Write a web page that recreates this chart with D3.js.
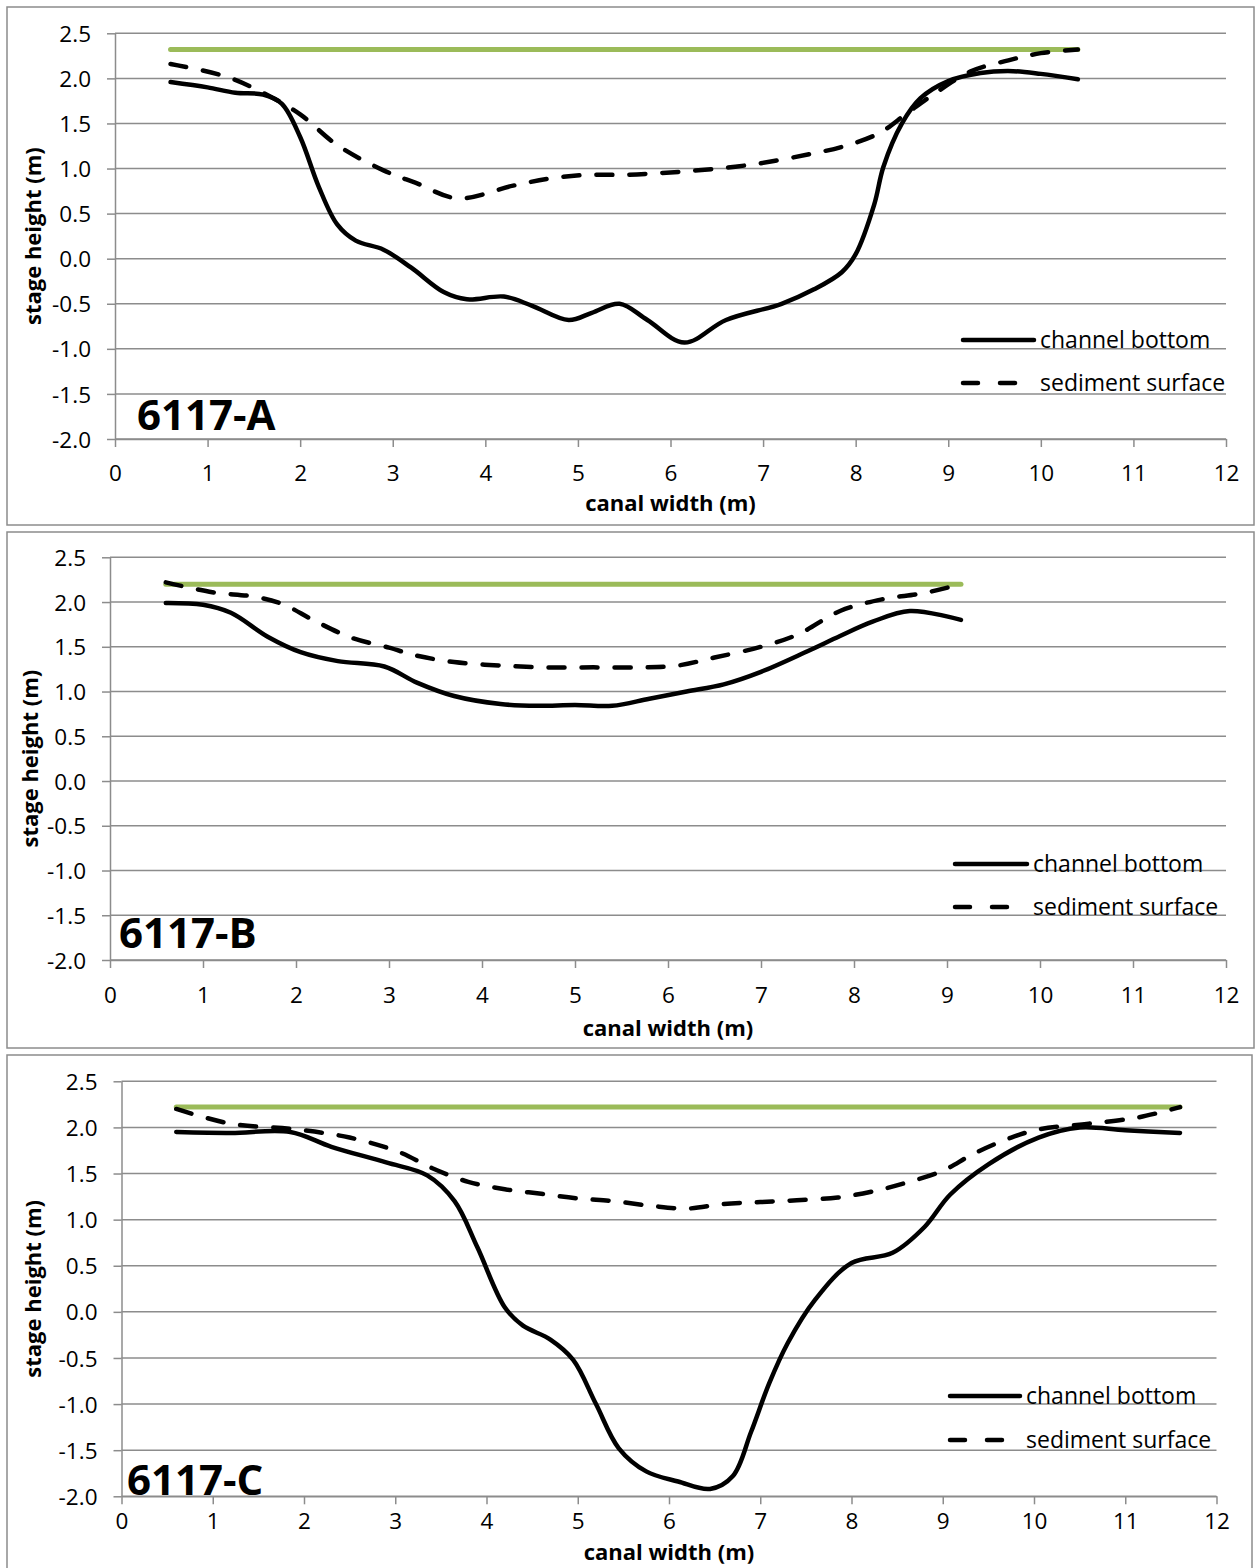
<!DOCTYPE html>
<html>
<head>
<meta charset="utf-8">
<script src="https://cdn.jsdelivr.net/npm/d3@7"></script>
<style>
  body { margin: 0; background: #fff; }
  svg { display: block; font-family: "Open Sans", "Noto Sans", sans-serif; }
</style>
</head>
<body>
<svg id="chart" width="1255" height="1568"></svg>
<script>

// tick values and labels
var xTicks = [0,1,2,3,4,5,6,7,8,9,10,11,12];
var yTicks = [-2.0,-1.5,-1.0,-0.5,0.0,0.5,1.0,1.5,2.0,2.5];
var panelNames = ["6117-A","6117-B","6117-C"];
var legendNames = ["channel bottom","sediment surface"];
var xTitle = "canal width (m)";
var yTitle = "stage height (m)";

// 6117-A  [width, height]
var waterA = [[0.6,2.32],[10.4,2.32]];
var bottomA = [[0.6,1.96],[1.0,1.9],[1.3,1.84],[1.6,1.82],[1.8,1.72],[2.0,1.35],[2.2,0.8],[2.4,0.38],
  [2.6,0.2],[2.9,0.1],[3.2,-0.1],[3.55,-0.37],[3.8,-0.45],[4.2,-0.42],[4.5,-0.52],[4.9,-0.68],
  [5.15,-0.6],[5.45,-0.5],[5.75,-0.68],[6.15,-0.93],[6.6,-0.68],[7.2,-0.5],[7.55,-0.34],[7.85,-0.15],
  [8.0,0.05],[8.2,0.6],[8.3,1.02],[8.5,1.5],[8.7,1.78],[9.0,1.97],[9.35,2.06],[9.7,2.08],[10.0,2.05],[10.4,1.99]];
var sedimentA = [[0.6,2.16],[1.2,2.02],[1.6,1.84],[2.0,1.6],[2.4,1.26],[2.9,0.98],[3.25,0.84],[3.7,0.67],
  [4.3,0.81],[4.7,0.89],[5.1,0.93],[5.5,0.93],[5.9,0.95],[6.3,0.98],[6.7,1.02],[7.1,1.08],[7.5,1.16],
  [7.85,1.24],[8.25,1.39],[8.55,1.61],[8.85,1.83],[9.25,2.08],[9.65,2.2],[10.0,2.28],[10.4,2.32]];

// 6117-B
var waterB = [[0.6,2.2],[9.15,2.2]];
var bottomB = [[0.6,1.99],[1.0,1.97],[1.3,1.88],[1.7,1.61],[2.05,1.44],[2.45,1.34],[2.95,1.28],[3.3,1.1],
  [3.7,0.95],[4.2,0.86],[4.6,0.84],[5.0,0.85],[5.4,0.84],[5.8,0.92],[6.2,1.0],[6.6,1.08],[7.0,1.22],
  [7.5,1.45],[7.85,1.62],[8.2,1.78],[8.6,1.9],[9.15,1.8]];
var sedimentB = [[0.6,2.22],[1.1,2.11],[1.55,2.06],[1.85,1.98],[2.2,1.79],[2.6,1.6],[3.0,1.49],[3.3,1.4],
  [3.7,1.33],[4.2,1.29],[4.7,1.27],[5.2,1.27],[5.7,1.27],[6.1,1.29],[6.5,1.38],[7.0,1.5],[7.4,1.64],
  [7.85,1.9],[8.3,2.03],[8.75,2.1],[9.15,2.2]];

// 6117-C
var waterC = [[0.6,2.22],[11.6,2.22]];
var bottomC = [[0.6,1.95],[1.2,1.94],[1.85,1.95],[2.3,1.79],[2.9,1.62],[3.35,1.48],[3.65,1.2],[3.9,0.7],
  [4.2,0.05],[4.4,-0.15],[4.7,-0.3],[4.95,-0.52],[5.2,-1.0],[5.45,-1.48],[5.75,-1.73],[6.1,-1.84],
  [6.45,-1.92],[6.7,-1.78],[6.9,-1.3],[7.1,-0.77],[7.3,-0.34],[7.6,0.13],[8.0,0.53],[8.45,0.64],
  [8.8,0.92],[9.08,1.27],[9.5,1.6],[10.05,1.89],[10.5,2.0],[11.0,1.97],[11.6,1.94]];
var sedimentC = [[0.6,2.2],[1.2,2.04],[1.9,1.98],[2.5,1.89],[3.05,1.73],[3.4,1.56],[3.8,1.41],[4.2,1.33],
  [4.6,1.28],[5.0,1.23],[5.4,1.2],[5.8,1.15],[6.2,1.12],[6.6,1.17],[7.0,1.19],[7.4,1.21],[7.85,1.24],
  [8.25,1.31],[8.6,1.4],[9.0,1.53],[9.33,1.71],[9.75,1.89],[10.06,1.98],[10.6,2.04],[11.15,2.11],[11.6,2.22]];

// page layout for each panel (pixels)
var panels = [
  {name: panelNames[0], water: waterA, bottom: bottomA, sediment: sedimentA,
   frame: [7,7,1254,525], left: 115, right: 1226, top: 33.3, bottom_: 439,
   xLabY: 481, xTitleY: 511, yTitleX: 40, tag: [137,430], leg: [963,1040,340,383]},
  {name: panelNames[1], water: waterB, bottom: bottomB, sediment: sedimentB,
   frame: [7,532,1254,1048], left: 110, right: 1226, top: 557.3, bottom_: 960,
   xLabY: 1003, xTitleY: 1036, yTitleX: 37, tag: [119,948], leg: [955,1033,864,907]},
  {name: panelNames[2], water: waterC, bottom: bottomC, sediment: sedimentC,
   frame: [7,1055,1252,1580], left: 121.5, right: 1216.5, top: 1081.3, bottom_: 1496.3,
   xLabY: 1529, xTitleY: 1560, yTitleX: 40, tag: [127,1495], leg: [950,1026,1396,1440]}
];

var svg = d3.select("#chart");
svg.append("rect").attr("width",1255).attr("height",1568).attr("fill","#fff");

var gridColor = "#8c8c8c";
var greenColor = "#9bbb59";

panels.forEach(function(p){

    var g = svg.append("g");

    g.append("rect")
        .attr("x", p.frame[0]).attr("y", p.frame[1])
        .attr("width", p.frame[2]-p.frame[0]).attr("height", p.frame[3]-p.frame[1])
        .attr("fill","none").attr("stroke", gridColor).attr("stroke-width",1.5);

    var xScale = d3.scaleLinear().domain([0,12]).range([p.left, p.right]);
    var yScale = d3.scaleLinear().domain([-2,2.5]).range([p.bottom_, p.top]);

    // horizontal gridlines
    g.append("g").selectAll("line")
        .data(yTicks)
        .enter()
        .append("line")
        .attr("x1", p.left).attr("x2", p.right)
        .attr("y1", d => yScale(d)).attr("y2", d => yScale(d))
        .attr("stroke", gridColor).attr("stroke-width",1.5);

    var xAxis = d3.axisBottom(xScale).tickValues(xTicks).tickSize(8).tickSizeOuter(0)
        .tickPadding(0).tickFormat(d => d);
    var yAxis = d3.axisLeft(yScale).tickValues(yTicks).tickSize(8).tickSizeOuter(0)
        .tickPadding(0).tickFormat(d => d.toFixed(1));

    var xa = g.append("g")
        .attr("transform", `translate(0, ${p.bottom_})`)
        .call(xAxis);
    var ya = g.append("g")
        .attr("transform", `translate(${p.left}, 0)`)
        .call(yAxis);

    [xa, ya].forEach(a => {
        a.select(".domain").attr("stroke", gridColor).attr("stroke-width",1.5);
        a.selectAll(".tick line").attr("stroke", gridColor).attr("stroke-width",1.5);
        a.selectAll(".tick text").attr("fill","#000").attr("font-size","22.5px")
            .attr("font-family","'Open Sans', sans-serif");
    });
    xa.selectAll(".tick text").attr("y", p.xLabY - p.bottom_).attr("dy", null);
    ya.selectAll(".tick text").attr("x", -24).attr("dy","0.36em");

    // axis titles
    g.append("text")
        .attr("x", (p.left + p.right)/2).attr("y", p.xTitleY)
        .attr("text-anchor","middle").attr("font-weight","bold").attr("font-size","22px")
        .text(xTitle);

    g.append("text")
        .attr("transform", `translate(${p.yTitleX + 1}, ${(p.top + p.bottom_)/2}) rotate(-90)`)
        .attr("text-anchor","middle").attr("font-weight","bold").attr("font-size","22px")
        .text(yTitle);

    // series
    var line = d3.line()
        .x(d => xScale(d[0]))
        .y(d => yScale(d[1]))
        .curve(d3.curveCatmullRom.alpha(0.5));

    g.append("path").datum(p.water)
        .attr("d", d3.line().x(d => xScale(d[0])).y(d => yScale(d[1])))
        .attr("fill","none").attr("stroke", greenColor).attr("stroke-width",5)
        .attr("stroke-linecap","round");

    g.append("path").datum(p.bottom)
        .attr("d", line)
        .attr("fill","none").attr("stroke","#000").attr("stroke-width",4.5)
        .attr("stroke-linecap","round").attr("stroke-linejoin","round");

    g.append("path").datum(p.sediment)
        .attr("d", line)
        .attr("fill","none").attr("stroke","#000").attr("stroke-width",4.5)
        .attr("stroke-linecap","round").attr("stroke-dasharray","16,17");

    // panel tag
    g.append("text")
        .attr("x", p.tag[0]).attr("y", p.tag[1])
        .attr("font-weight","bold").attr("font-size","42px")
        .text(p.name);

    // legend
    var lg = g.append("g");
    lg.append("line")
        .attr("x1", p.leg[0]).attr("x2", p.leg[1]-6)
        .attr("y1", p.leg[2]).attr("y2", p.leg[2])
        .attr("stroke","#000").attr("stroke-width",4.5).attr("stroke-linecap","round");
    lg.append("line")
        .attr("x1", p.leg[0]).attr("x2", p.leg[1]-20)
        .attr("y1", p.leg[3]).attr("y2", p.leg[3])
        .attr("stroke","#000").attr("stroke-width",4.5).attr("stroke-linecap","round")
        .attr("stroke-dasharray","15,22");
    lg.selectAll("text.leg")
        .data(legendNames)
        .enter()
        .append("text")
        .attr("class","leg")
        .attr("x", p.leg[1])
        .attr("y", (d,i) => (i == 0 ? p.leg[2] : p.leg[3]) + 8)
        .attr("font-size","23px")
        .text(d => d);
});

</script>
</body>
</html>
